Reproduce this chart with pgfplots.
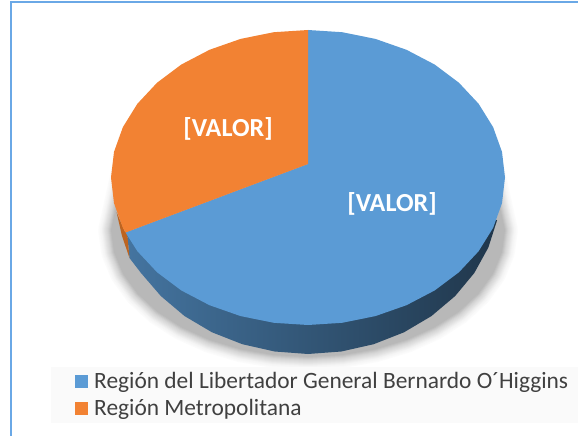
\documentclass[border=0pt]{standalone}
\usepackage{pgfplots}
\usepackage{pgfplotstable}
\usepackage{fontspec}
\setmainfont{Carlito}
\pgfplotsset{compat=1.18}
\definecolor{pieblue}{HTML}{5B9BD5}
\definecolor{pieorange}{HTML}{F28233}
\definecolor{legorange}{HTML}{ED7D31}
\definecolor{sideorange}{HTML}{BD6420}
\definecolor{frameblue}{HTML}{6AA8E6}
\definecolor{legbg}{HTML}{FAFAFA}
\definecolor{legtext}{HTML}{404040}
\pgfplotstableread{
x y
308 164
308 30
342.2 32.2
375.4 38.9
406.5 49.8
434.6 64.5
458.9 82.7
478.6 103.75
493.1 127.1
502 151.9
505 177.5
502 203.1
493.1 227.9
478.6 251.25
458.9 272.3
434.6 290.5
406.5 305.2
375.4 316.1
342.2 322.8
308 325
273.8 322.8
240.6 316.1
209.5 305.2
181.4 290.5
157.1 272.3
137.4 251.25
125.5 232.5
308 164
}\sliceblue
\pgfplotstableread{
x y
308 164
125.5 232.5
122.9 227.9
114 203.1
111 177.5
114 151.9
122.9 127.1
137.4 103.75
157.1 82.7
181.4 64.5
209.5 49.8
240.6 38.9
273.8 32.2
308 30
308 164
}\sliceorange
\pgfplotstableread{
x y
497.1 220.1
488.4 247.4
474.3 273
455.1 296.1
431.4 316.1
404 332.3
373.7 344.2
341.3 351.5
308 354
274.7 351.5
242.3 344.2
212 332.3
184.6 316.1
160.9 296.1
141 273
129.5 258
127 232
308 190
497.1 220.1
}\sideblue
\pgfplotstableread{
x y
116.5 212
122 236
129.5 258
127 232
125 232
116.5 212
}\sideorange
\pgfplotstableread{
x y
484 140
504 230
501 251.9
492.2 273.1
477.7 293
458.1 311
434 326.5
406 339.1
375 348.4
342 354.1
308 356
274 354.1
241 348.4
210 339.1
182 326.5
157.9 311
138.3 293
123.8 273.1
115 251.9
112 230
132 140
}\shadowrim
\begin{document}
\begin{tikzpicture}
\begin{axis}[
  scale only axis, width=578pt, height=436pt,
  xmin=0, xmax=578, ymin=0, ymax=436, y dir=reverse,
  hide axis, clip=true,
  legend image code/.code={\fill[#1] (0pt,-6.5pt) rectangle (13pt,6.5pt);\path (0pt,0pt) (17pt,0pt);},
  legend cell align=left,
  legend style={at={(axis cs:51,367)}, anchor=north west, fill=legbg, draw=none,
    font=\fontsize{23.4}{27}\selectfont, text=legtext,
    inner xsep=24pt, inner ysep=3.5pt, row sep=5pt},
]
% frame
\addplot[forget plot, frameblue, line width=2pt] coordinates {(578,2.5)(10.5,2.5)(10.5,436)};
% shadow, darkening layer by layer towards the pie
\pgfplotsinvokeforeach{1,...,14}{
  \addplot[forget plot, draw=black!\the\numexpr #1*(#1+8)/11\relax, fill=black!\the\numexpr #1*(#1+8)/11\relax,
     line width={(30-2*#1)*1pt}, line join=round] table {\shadowrim};
}
% sides
\addplot[forget plot, draw=none, shading=axis, left color=pieblue!75!black, middle color=pieblue!35!black, right color=pieblue!35!black] table {\sideblue};
\addplot[forget plot, draw=none, fill=sideorange] table {\sideorange};
% top slices
\addplot[draw=none, fill=pieblue] table {\sliceblue};
\addlegendentry{Región del Libertador General Bernardo O´Higgins}
\addplot[draw=none, fill=pieorange] table {\sliceorange};
\addlegendentry{Región Metropolitana}
\node[text=white, font=\fontsize{26}{28}\selectfont\bfseries] at (axis cs:228,129) {[VALOR]};
\node[text=white, font=\fontsize{26}{28}\selectfont\bfseries] at (axis cs:392,204) {[VALOR]};
\end{axis}
\pgfresetboundingbox
\useasboundingbox (0,0) rectangle (578pt,436pt);
\end{tikzpicture}
\end{document}
